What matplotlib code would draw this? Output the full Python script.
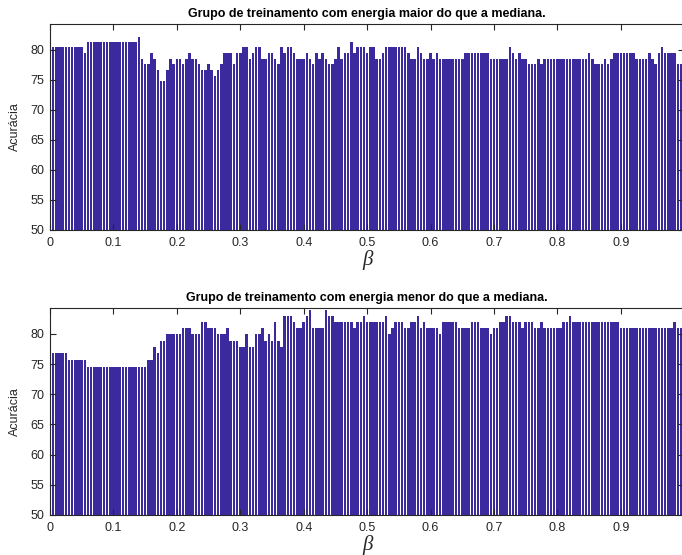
import matplotlib
matplotlib.use("Agg")
import matplotlib.pyplot as plt
import numpy as np

plt.rcParams['font.family'] = ['Liberation Sans', 'DejaVu Sans']

# beta = 0:0.005:1
beta = np.round(np.linspace(0, 1, 201), 3)

# Acuracia (%) - grupo com energia maior do que a mediana
acc_maior = [
    80.4, 80.4, 80.4, 80.4, 80.4, 80.4, 80.4, 80.4, 80.4, 80.4, 80.4, 79.4, 81.3, 81.3, 81.3, 81.3, 81.3, 81.3, 81.3, 81.3,
    81.3, 81.3, 81.3, 81.3, 81.3, 81.3, 81.3, 81.3, 82.2, 78.5, 77.6, 77.6, 79.4, 78.5, 76.6, 74.8, 74.8, 76.6, 78.5, 77.6,
    78.5, 78.5, 77.6, 78.5, 79.4, 78.5, 78.5, 77.6, 76.6, 76.6, 77.6, 76.6, 75.7, 76.6, 77.6, 79.4, 79.4, 79.4, 77.6, 79.4,
    79.4, 80.4, 80.4, 78.5, 79.4, 80.4, 80.4, 78.5, 78.5, 79.4, 79.4, 78.5, 77.6, 80.4, 79.4, 80.4, 80.4, 79.4, 78.5, 78.5,
    78.5, 79.4, 78.5, 77.6, 79.4, 78.5, 79.4, 78.5, 77.6, 77.6, 78.5, 80.4, 78.5, 79.4, 79.4, 81.3, 79.4, 80.4, 80.4, 80.4,
    79.4, 80.4, 80.4, 78.5, 78.5, 79.4, 80.4, 80.4, 80.4, 80.4, 80.4, 80.4, 80.4, 79.4, 78.5, 78.5, 80.4, 79.4, 78.5, 78.5,
    79.4, 78.5, 79.4, 78.5, 78.5, 78.5, 78.5, 78.5, 78.5, 78.5, 78.5, 79.4, 79.4, 79.4, 79.4, 79.4, 79.4, 79.4, 79.4, 78.5,
    78.5, 78.5, 78.5, 78.5, 78.5, 80.4, 79.4, 78.5, 79.4, 78.5, 78.5, 77.6, 77.6, 77.6, 78.5, 77.6, 78.5, 78.5, 78.5, 78.5,
    78.5, 78.5, 78.5, 78.5, 78.5, 78.5, 78.5, 78.5, 78.5, 78.5, 79.4, 78.5, 77.6, 77.6, 77.6, 78.5, 77.6, 78.5, 79.4, 79.4,
    79.4, 79.4, 79.4, 79.4, 79.4, 78.5, 78.5, 78.5, 78.5, 79.4, 78.5, 77.6, 79.4, 80.4, 79.4, 79.4, 79.4, 79.4, 77.6, 77.6,
    77.6,
]

# Acuracia (%) - grupo com energia menor do que a mediana
acc_menor = [
    76.8, 76.8, 76.8, 76.8, 76.8, 76.8, 75.7, 75.7, 75.7, 75.7, 75.7, 75.7, 74.6, 74.6, 74.6, 74.6, 74.6, 74.6, 74.6, 74.6,
    74.6, 74.6, 74.6, 74.6, 74.6, 74.6, 74.6, 74.6, 74.6, 74.6, 74.6, 75.7, 75.7, 77.8, 76.8, 78.8, 78.8, 80.0, 80.0, 80.0,
    80.0, 80.0, 80.9, 80.9, 80.9, 80.0, 80.0, 80.0, 82.0, 82.0, 80.9, 80.9, 80.9, 80.0, 80.0, 80.0, 80.9, 78.8, 78.8, 78.8,
    77.8, 77.8, 80.0, 77.8, 77.8, 80.0, 80.0, 80.9, 78.8, 80.0, 78.8, 82.0, 78.8, 77.8, 83.0, 83.0, 83.0, 82.0, 80.9, 80.9,
    82.0, 83.0, 84.0, 80.9, 80.9, 80.9, 80.9, 84.0, 83.0, 83.0, 82.0, 82.0, 82.0, 82.0, 82.0, 82.0, 80.9, 82.0, 82.0, 83.0,
    82.0, 82.0, 82.0, 82.0, 82.0, 82.0, 83.0, 80.0, 80.9, 82.0, 82.0, 82.0, 80.9, 80.9, 82.0, 82.0, 83.0, 80.9, 82.0, 80.9,
    80.9, 80.9, 80.9, 80.0, 82.0, 82.0, 82.0, 82.0, 82.0, 80.9, 80.9, 80.9, 80.9, 82.0, 82.0, 82.0, 80.9, 80.9, 80.9, 80.0,
    80.9, 80.9, 82.0, 82.0, 83.0, 83.0, 82.0, 82.0, 82.0, 80.9, 82.0, 82.0, 82.0, 80.9, 80.9, 82.0, 80.9, 80.9, 80.9, 80.9,
    80.9, 80.9, 82.0, 82.0, 83.0, 82.0, 82.0, 82.0, 82.0, 82.0, 82.0, 82.0, 82.0, 82.0, 82.0, 82.0, 82.0, 82.0, 82.0, 82.0,
    80.9, 80.9, 80.9, 80.9, 80.9, 80.9, 80.9, 80.9, 80.9, 80.9, 80.9, 80.9, 80.9, 80.9, 80.9, 80.9, 80.9, 82.0, 80.9, 80.9,
    80.9,
]

titles = ['Grupo de treinamento com energia maior do que a mediana.',
          'Grupo de treinamento com energia menor do que a mediana.']

bar_color = '#3a2a9e'
axis_color = '#262626'

fig = plt.figure(figsize=(6.82, 5.55), dpi=100)

# axes boxes in figure fractions (right edge runs slightly past the crop)
ax_top = fig.add_axes([0.0733, 0.5856, 0.930, 0.3712])
ax_bot = fig.add_axes([0.0733, 0.0721, 0.930, 0.3730])

for ax, acc, title in zip([ax_top, ax_bot], [acc_maior, acc_menor], titles):
    ax.bar(beta, acc, width=0.8 * 0.005, color=bar_color, edgecolor='none')
    ax.set_xlim(0, 1)
    ax.set_ylim(50, 84.3)
    ax.set_xticks(np.arange(0, 1.01, 0.1))
    ax.set_xticklabels(['0', '0.1', '0.2', '0.3', '0.4', '0.5', '0.6', '0.7', '0.8', '0.9', '1'])
    ax.set_yticks(np.arange(50, 81, 5))
    ax.tick_params(direction='in', top=True, right=True, length=4, width=0.8,
                   labelsize=9, colors=axis_color)
    ax.tick_params(axis='x', pad=5)
    ax.tick_params(axis='y', pad=4)
    for sp in ax.spines.values():
        sp.set_color(axis_color)
        sp.set_linewidth(0.8)
    ax.set_title(title, fontsize=9, fontweight='bold', color='#000000', pad=5)
    ax.set_ylabel('Acurácia', fontsize=9, color=axis_color, labelpad=7)
    ax.set_xlabel('β', fontsize=15, family='Liberation Serif', style='italic',
                  color=axis_color, labelpad=1)

fig.savefig('out.png', dpi=100)
